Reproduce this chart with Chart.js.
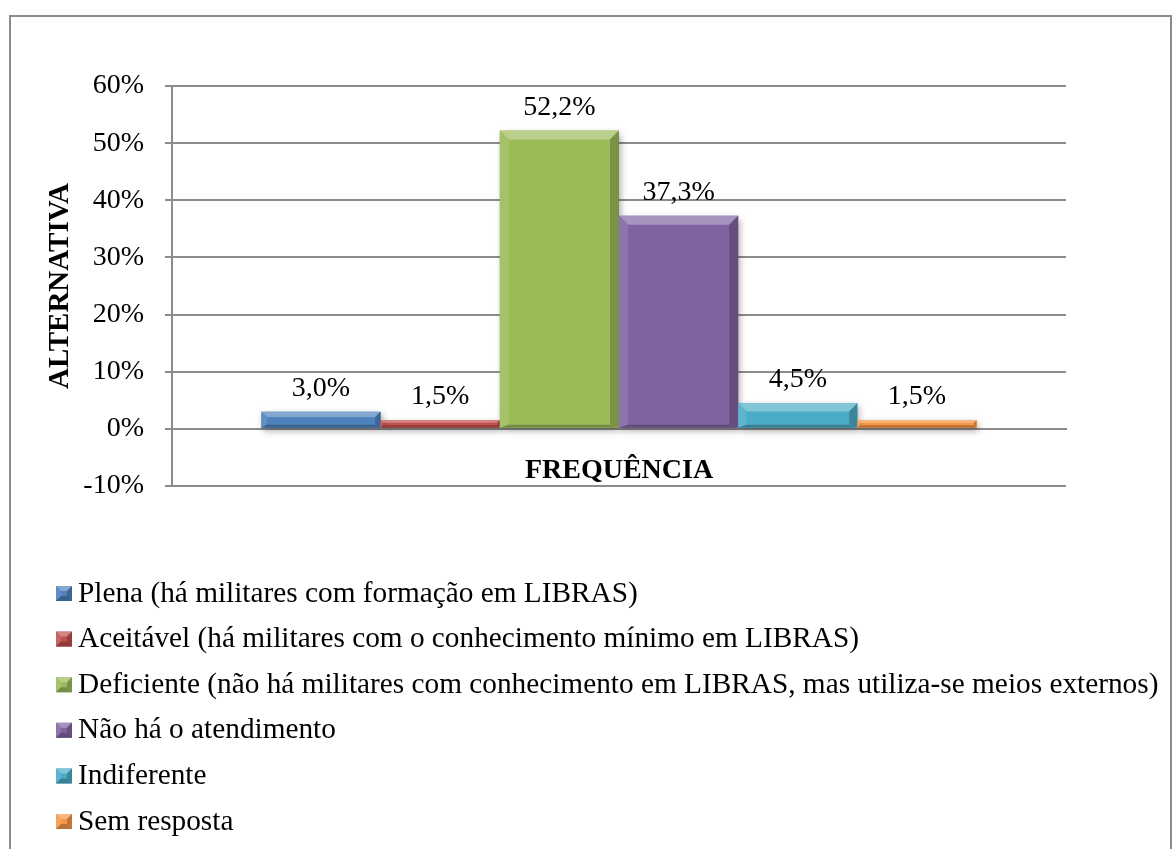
<!DOCTYPE html>
<html lang="pt-BR">
<head>
<meta charset="utf-8">
<title>Alternativa x Frequência</title>
<script src="https://cdn.jsdelivr.net/npm/chart.js@4.4.1/dist/chart.umd.min.js"></script>
<style>
  html, body { margin: 0; padding: 0; background: #fff; }
  body {
    width: 1173px;
    height: 849px;
    position: relative;
    overflow: hidden;
  }
  .frame {
    position: absolute;
    left: 9px;
    top: 15px;
    width: 1159px;
    height: 900px;
    border: 2px solid #8c8c8c;
    border-bottom: none;
  }
  .plot { position: absolute; left: 0; top: 0; width: 1173px; height: 849px; }
</style>
</head>
<body>
<div class="frame"></div>
<div class="plot"><canvas id="chart"></canvas></div>

<script>
const categories = ['FREQUÊNCIA'];
const seriesNames = [
  'Plena (há militares com formação em LIBRAS)',
  'Aceitável (há militares com o conhecimento mínimo em LIBRAS)',
  'Deficiente (não há militares com conhecimento em LIBRAS, mas utiliza-se meios externos)',
  'Não há o atendimento',
  'Indiferente',
  'Sem resposta',
];
const seriesValues = [3.0, 1.5, 52.2, 37.3, 4.5, 1.5];
const seriesColors = ['#4f81bd', '#c0504d', '#9bbb59', '#8064a2', '#4bacc6', '#f79646'];
const tickValues = [-10, 0, 10, 20, 30, 40, 50, 60];

const FONT = '"Liberation Serif", "Times New Roman", serif';
const GRID = '#8c8c8c';

// blend a hex colour toward white (amount > 0) or black (amount < 0)
function shade(hex, amount) {
  const n = parseInt(hex.slice(1), 16);
  const target = amount > 0 ? 255 : 0;
  const a = Math.abs(amount);
  const ch = [(n >> 16) & 255, (n >> 8) & 255, n & 255].map((c) => Math.round(c + (target - c) * a));
  return `rgb(${ch[0]}, ${ch[1]}, ${ch[2]})`;
}

function formatPct(v) {
  return v.toFixed(1).replace('.', ',') + '%';
}

// four trapezoids round a rectangle give the raised, bevelled look
function drawBevel(ctx, l, t, r, b, color, size, bottomSize) {
  const e = Math.min(size, (b - t) / 2, (r - l) / 2);
  const eb = Math.min(bottomSize ?? e, e);
  const face = (pts, fill) => {
    ctx.beginPath();
    ctx.moveTo(pts[0][0], pts[0][1]);
    pts.slice(1).forEach((p) => ctx.lineTo(p[0], p[1]));
    ctx.closePath();
    ctx.fillStyle = fill;
    ctx.fill();
  };
  face([[l, t], [r, t], [r - e, t + e], [l + e, t + e]], shade(color, 0.3));
  face([[l, t], [l + e, t + e], [l + e, b - eb], [l, b]], shade(color, 0.1));
  face([[r, t], [r, b], [r - e, b - eb], [r - e, t + e]], shade(color, -0.22));
  face([[l, b], [r, b], [r - e, b - eb], [l + e, b - eb]], shade(color, -0.25));
}

// soft drop shadow under the bars, then bevelled edges and value labels on top
const bevelPlugin = {
  id: 'bevel',
  beforeDatasetsDraw(chart) {
    const ctx = chart.ctx;
    ctx.save();
    ctx.shadowColor = 'rgba(0, 0, 0, 0.35)';
    ctx.shadowBlur = 7;
    ctx.shadowOffsetX = 2;
    ctx.shadowOffsetY = 3;
  },
  afterDatasetsDraw(chart) {
    const ctx = chart.ctx;
    ctx.restore();

    chart.data.datasets.forEach((ds, i) => {
      const meta = chart.getDatasetMeta(i);
      meta.data.forEach((bar, j) => {
        const { x, y, base, width } = bar.getProps(['x', 'y', 'base', 'width'], true);
        const t = Math.min(y, base);
        const b = Math.max(y, base);
        const size = Math.min(9, (b - t) / 3);
        drawBevel(ctx, x - width / 2, t, x + width / 2, b, seriesColors[i], size, 3);

        ctx.save();
        ctx.font = `28px ${FONT}`;
        ctx.fillStyle = '#000';
        ctx.textAlign = 'center';
        ctx.textBaseline = 'alphabetic';
        ctx.fillText(formatPct(ds.data[j]), x, t - 16);
        ctx.restore();
      });
    });
  },
};

// one legend entry per line under the plot
const listLegend = {
  id: 'listLegend',
  afterDraw(chart, args, opts) {
    const ctx = chart.ctx;
    ctx.save();
    ctx.font = `${opts.fontSize}px ${FONT}`;
    ctx.textAlign = 'left';
    ctx.textBaseline = 'middle';
    chart.data.datasets.forEach((ds, i) => {
      const cy = opts.top + i * opts.rowHeight;
      const color = seriesColors[i];
      ctx.fillStyle = color;
      ctx.fillRect(opts.left, cy - 8, 16, 15);
      drawBevel(ctx, opts.left, cy - 8, opts.left + 16, cy + 7, color, 5);
      ctx.fillStyle = '#000';
      ctx.fillText(ds.label, opts.left + 22, cy);
    });
    ctx.restore();
  },
};

const datasets = seriesNames.map((name, i) => ({
  label: name,
  data: [seriesValues[i]],
  backgroundColor: seriesColors[i],
  borderWidth: 0,
  categoryPercentage: 0.8,
  barPercentage: 1.0,
}));

const chart = new Chart(document.getElementById('chart'), {
  type: 'bar',
  data: { labels: categories, datasets },
  options: {
    responsive: true,
    maintainAspectRatio: false,
    animation: false,
    layout: { padding: { top: 86, right: 107, bottom: 363, left: 0 } },
    plugins: {
      legend: { display: false },
      tooltip: { enabled: false },
      listLegend: { left: 56, top: 594, rowHeight: 45.6, fontSize: 29.3 },
    },
    scales: {
      x: {
        position: { y: 0 },
        grid: { display: false, drawTicks: false },
        border: { display: true, color: GRID, width: 2 },
        ticks: {
          padding: 25,
          color: '#000',
          font: { family: FONT, size: 28, weight: 'bold' },
        },
      },
      y: {
        min: tickValues[0],
        max: tickValues[tickValues.length - 1],
        afterFit(scale) {
          scale.width = 172;
        },
        afterBuildTicks(scale) {
          scale.ticks = tickValues.map((v) => ({ value: v }));
        },
        grid: { color: GRID, lineWidth: 2, tickLength: 7, drawTicks: true },
        border: { display: true, color: GRID, width: 2 },
        ticks: {
          autoSkip: false,
          padding: 21,
          color: '#000',
          font: { family: FONT, size: 28 },
          callback: (v) => v + '%',
        },
        title: {
          display: true,
          text: 'ALTERNATIVA',
          color: '#000',
          font: { family: FONT, size: 29, weight: 'bold' },
          padding: { top: 43, bottom: 0 },
        },
      },
    },
  },
  plugins: [bevelPlugin, listLegend],
});
</script>
</body>
</html>
